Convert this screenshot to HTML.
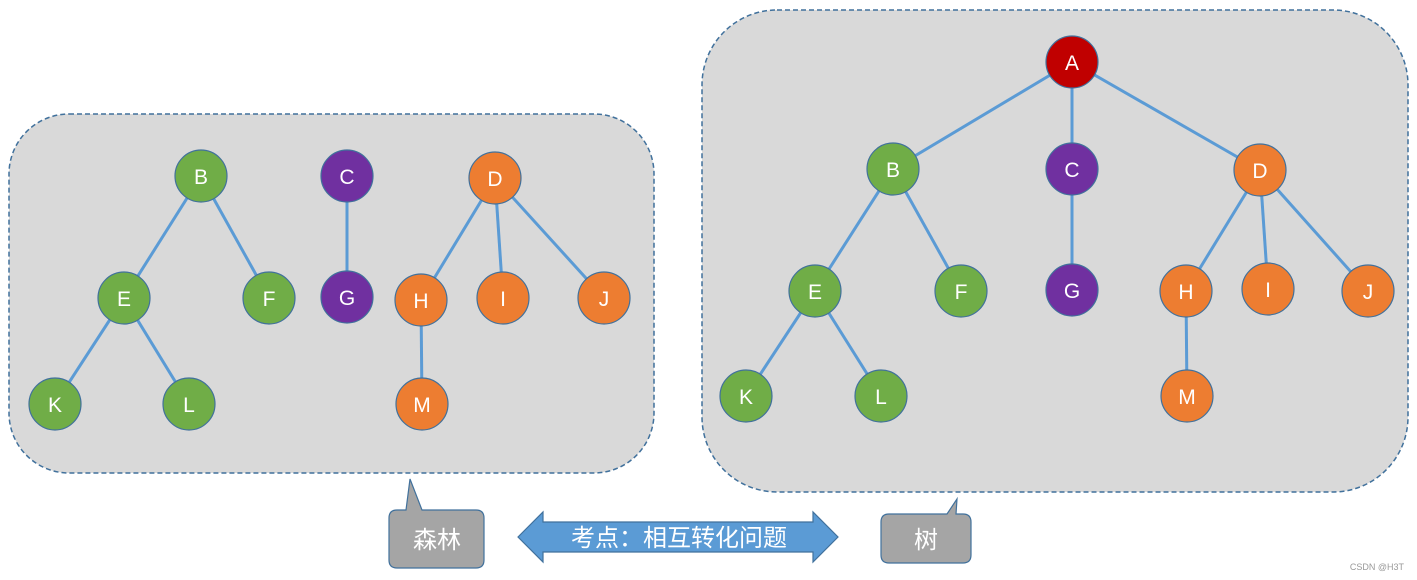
<!DOCTYPE html>
<html><head><meta charset="utf-8"><style>body{margin:0;background:#fff}svg{display:block}</style></head><body>
<svg width="1417" height="580" viewBox="0 0 1417 580" xmlns="http://www.w3.org/2000/svg" font-family="Liberation Sans, sans-serif">
<rect x="9" y="114" width="645" height="359" rx="60" fill="#d9d9d9" stroke="#41719c" stroke-width="1.5" stroke-dasharray="5,3"/>
<rect x="702" y="10" width="706" height="482" rx="75" fill="#d9d9d9" stroke="#41719c" stroke-width="1.5" stroke-dasharray="5,3"/>
<g stroke="#5b9bd5" stroke-width="3">
<line x1="201" y1="176" x2="124" y2="298"/><line x1="201" y1="176" x2="269" y2="298"/>
<line x1="347" y1="176" x2="347" y2="297"/>
<line x1="495" y1="178" x2="421" y2="300"/><line x1="495" y1="178" x2="503" y2="298"/><line x1="495" y1="178" x2="604" y2="298"/>
<line x1="124" y1="298" x2="55" y2="404"/><line x1="124" y1="298" x2="189" y2="404"/>
<line x1="421" y1="300" x2="422" y2="404"/>
<line x1="1072" y1="62" x2="893" y2="169"/><line x1="1072" y1="62" x2="1072" y2="169"/><line x1="1072" y1="62" x2="1260" y2="170"/>
<line x1="893" y1="169" x2="815" y2="291"/><line x1="893" y1="169" x2="961" y2="291"/>
<line x1="1072" y1="169" x2="1072" y2="290"/>
<line x1="1260" y1="170" x2="1186" y2="291"/><line x1="1260" y1="170" x2="1268" y2="289"/><line x1="1260" y1="170" x2="1368" y2="291"/>
<line x1="815" y1="291" x2="746" y2="396"/><line x1="815" y1="291" x2="881" y2="396"/>
<line x1="1186" y1="291" x2="1187" y2="396"/>
</g>
<g stroke="#41719c" stroke-width="1.2" font-size="21" text-anchor="middle">
<g fill="#70ad47"><circle cx="201" cy="176" r="26"/><circle cx="124" cy="298" r="26"/><circle cx="269" cy="298" r="26"/><circle cx="55" cy="404" r="26"/><circle cx="189" cy="404" r="26"/>
<circle cx="893" cy="169" r="26"/><circle cx="815" cy="291" r="26"/><circle cx="961" cy="291" r="26"/><circle cx="746" cy="396" r="26"/><circle cx="881" cy="396" r="26"/></g>
<g fill="#7030a0"><circle cx="347" cy="176" r="26"/><circle cx="347" cy="297" r="26"/><circle cx="1072" cy="169" r="26"/><circle cx="1072" cy="290" r="26"/></g>
<g fill="#ed7d31"><circle cx="495" cy="178" r="26"/><circle cx="421" cy="300" r="26"/><circle cx="503" cy="298" r="26"/><circle cx="604" cy="298" r="26"/><circle cx="422" cy="404" r="26"/>
<circle cx="1260" cy="170" r="26"/><circle cx="1186" cy="291" r="26"/><circle cx="1268" cy="289" r="26"/><circle cx="1368" cy="291" r="26"/><circle cx="1187" cy="396" r="26"/></g>
<circle cx="1072" cy="62" r="26" fill="#c00000"/>
</g>
<g fill="#fff" font-size="21" text-anchor="middle">
<text x="201" y="184">B</text><text x="347" y="184">C</text><text x="495" y="186">D</text><text x="124" y="306">E</text><text x="269" y="306">F</text><text x="347" y="305">G</text><text x="421" y="308">H</text><text x="503" y="306">I</text><text x="604" y="306">J</text><text x="55" y="412">K</text><text x="189" y="412">L</text><text x="422" y="412">M</text>
<text x="1072" y="70">A</text><text x="893" y="177">B</text><text x="1072" y="177">C</text><text x="1260" y="178">D</text><text x="815" y="299">E</text><text x="961" y="299">F</text><text x="1072" y="298">G</text><text x="1186" y="299">H</text><text x="1268" y="297">I</text><text x="1368" y="299">J</text><text x="746" y="404">K</text><text x="881" y="404">L</text><text x="1187" y="404">M</text>
</g>
<path d="M397,510 L406,510 L410,479 L422,510 L476,510 Q484,510 484,518 L484,560 Q484,568 476,568 L397,568 Q389,568 389,560 L389,518 Q389,510 397,510 Z" fill="#a5a5a5" stroke="#41719c" stroke-width="1.2"/>
<path d="M889,514 L947,514 L957,499 L956,514 L963,514 Q971,514 971,522 L971,555 Q971,563 963,563 L889,563 Q881,563 881,555 L881,522 Q881,514 889,514 Z" fill="#a5a5a5" stroke="#41719c" stroke-width="1.2"/>
<path d="M518,537 L543,512 L543,522 L813,522 L813,512 L838,537 L813,562 L813,552 L543,552 L543,562 Z" fill="#5b9bd5" stroke="#41719c" stroke-width="1.2"/>
<g fill="#fff" font-family="Liberation Sans, Noto Sans CJK SC, sans-serif" font-size="24">
<text x="437" y="548" text-anchor="middle">森林</text>
<text x="926" y="548" text-anchor="middle">树</text>
<text x="679" y="546" text-anchor="middle">考点：相互转化问题</text>
</g>
<text x="1404" y="570" font-size="9" fill="#999" text-anchor="end">CSDN @H3T</text>
</svg>
</body></html>
